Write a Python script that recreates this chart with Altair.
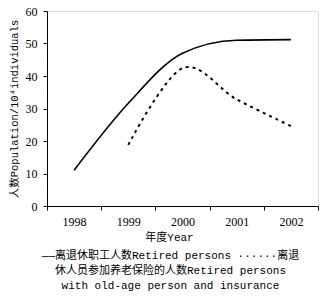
import altair as alt
import pandas as pd

years = ["1998", "1999", "2000", "2001", "2002"]
retired = [11.0, 31.6, 47.0, 51.0, 51.2]
insured_years = ["1999", "2000", "2001", "2002"]
insured = [18.8, 42.4, 32.8, 24.6]

df1 = pd.DataFrame({"year": years, "value": retired})
df2 = pd.DataFrame({"year": insured_years, "value": insured})

FONT = "Liberation Mono, Noto Sans CJK SC"
NUM = "Liberation Serif"

xenc = alt.X("year:O", bandPosition=0.5,
             scale=alt.Scale(type="band", paddingInner=0, paddingOuter=0, domain=years),
             axis=alt.Axis(title="年度Year", labelAngle=0, tickBand="extent", tickSize=4,
                           labelPadding=6, labelFont=NUM, labelFontSize=12, labelColor="black",
                           titleFont=FONT, titleFontSize=11, titleFontWeight="normal",
                           titleColor="black", titlePadding=4, titleX=122,
                           domainColor="black", tickColor="black", grid=False))
yenc = alt.Y("value:Q",
             scale=alt.Scale(domain=[0, 60], nice=False),
             axis=alt.Axis(title="人数Population/10⁴individuals", values=[0, 10, 20, 30, 40, 50, 60],
                           tickSize=4, labelPadding=6, labelFont=NUM, labelFontSize=12,
                           labelColor="black", titleFont=FONT, titleFontSize=10.5,
                           titleFontWeight="normal", titleColor="black", titlePadding=6,
                           domainColor="black", tickColor="black", grid=False))

line1 = alt.Chart(df1).mark_line(color="black", strokeWidth=1.6, interpolate="monotone").encode(x=xenc, y=yenc)
line2 = alt.Chart(df2).mark_line(color="black", strokeWidth=2, strokeDash=[3, 4],
                                 interpolate="cardinal").encode(x=xenc, y=yenc)

chart = alt.layer(line1, line2).properties(
    width=271, height=195,
    autosize=alt.AutoSizeParams(type="none"),
    padding={"left": 47, "top": 11, "right": 17, "bottom": 92},
    title=alt.TitleParams(
        text=["——离退休职工人数Retired persons ······离退",
              "休人员参加养老保险的人数Retired persons",
              "with old-age person and insurance"],
        orient="bottom", anchor="middle", dx=-12, offset=8,
        font=FONT, fontSize=11, fontWeight="normal", color="black", lineHeight=15),
).configure_view(stroke=None).configure(background="white")

chart.save("out.html", embed_options={"renderer": "svg", "actions": False})
